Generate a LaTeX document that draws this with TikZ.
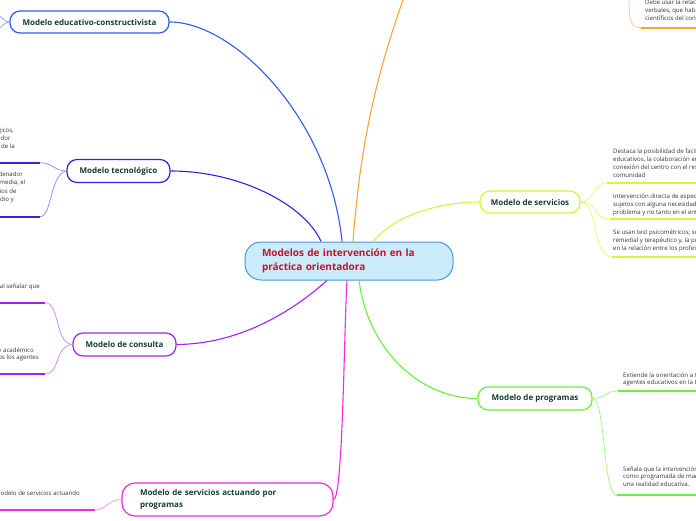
\documentclass[tikz,border=0pt]{standalone}
\usepackage{fontspec}
\setmainfont{Open Sans}
\definecolor{cedu}{HTML}{2F5CEB}
\definecolor{ctec}{HTML}{3A1EE3}
\definecolor{ccon}{HTML}{A322F0}
\definecolor{cbot}{HTML}{EE2BDF}
\definecolor{cora}{HTML}{FFA42B}
\definecolor{cser}{HTML}{D5F53B}
\definecolor{cpro}{HTML}{6CEF3A}
\definecolor{mainfill}{HTML}{C9EBFA}
\definecolor{mainline}{HTML}{4A98D4}
\definecolor{maintext}{HTML}{C8102E}
\definecolor{nodetext}{HTML}{123F2E}
\definecolor{smalltext}{HTML}{333333}
\tikzset{
  topic/.style={draw, line width=1.2pt, fill=white, rounded corners=10pt,
    font=\fontsize{8}{9.5}\selectfont\bfseries, text=nodetext, inner sep=0pt},
  link/.style={line width=1.1pt},
  twig/.style={line width=0.7pt},
  uline/.style={line width=2pt},
  note/.style={font=\fontsize{6.1}{7.8}\selectfont, text=smalltext, inner sep=0pt, align=left, anchor=north west},
  lnote/.style={font=\fontsize{6.1}{7.8}\selectfont, text=smalltext, inner sep=0pt, anchor=base east}
}
\begin{document}
\begin{tikzpicture}[x=1pt,y=-1pt]
\useasboundingbox (0,0) rectangle (696,520);
\clip (0,0) rectangle (696,520);

% central node
\node[draw=mainline, fill=mainfill, line width=1pt, rounded corners=16pt,
  minimum width=208pt, minimum height=38pt, text width=174pt, align=left,
  font=\fontsize{10}{14}\selectfont\bfseries, text=maintext, inner sep=0pt] (main) at (349,261)
  {Modelos de intervención en la\\práctica orientadora};

% topics
\node[topic, draw=cedu, minimum width=159pt, minimum height=22pt] (edu) at (89.5,22) {Modelo educativo-constructivista};
\node[topic, draw=ctec, minimum width=103pt, minimum height=23pt] (tec) at (118.5,171) {Modelo tecnológico};
\node[topic, draw=ccon, minimum width=103pt, minimum height=23pt] (con) at (124.5,344.5) {Modelo de consulta};
\node[topic, draw=cbot, minimum width=211pt, minimum height=33pt, rounded corners=13pt,
  text width=175pt, align=left, font=\fontsize{8}{12.4}\selectfont\bfseries] (bot) at (227.5,499.5)
  {Modelo de servicios actuando por\\programas};
\node[topic, draw=cser, minimum width=100pt, minimum height=22pt] (ser) at (530,202) {Modelo de servicios};
\node[topic, draw=cpro, minimum width=114pt, minimum height=23pt] (pro) at (535,398.5) {Modelo de programas};

\coordinate (orangetop) at (410,-20);

% main links
\draw[link, cedu] (edu.east) .. controls (235,22) and (330,120) .. ([xshift=-7pt]main.north);
\draw[link, ctec] (tec.east) .. controls (240,171) and (305,205) .. ([xshift=-28pt]main.north);
\draw[link, ccon] (con.east) .. controls (250,344) and (305,300) .. ([xshift=-22pt]main.south);
\draw[link, cbot] (bot.east) .. controls (343,499) and (344,330) .. ([xshift=-2pt]main.south);
\draw[link, cora] ([xshift=4pt]main.north) .. controls (362,120) and (385,50) .. (orangetop);
\draw[link, cser] ([xshift=24pt]main.north) .. controls (395,215) and (440,202) .. (ser.west);
\draw[link, cpro] ([xshift=10pt]main.south) .. controls (368,350) and (420,398.5) .. (pro.west);

% educativo left stubs
\coordinate (e1) at (-2,15);
\coordinate (e2) at (-2,29);
\draw[twig, cedu!60] (edu.west) .. controls (5,22) and (3,18) .. (e1);
\draw[twig, cedu!60] (edu.west) .. controls (5,22) and (3,26) .. (e2);

% tecnologico subbranches
\coordinate (t1a) at (40,162.7); \coordinate (t1b) at (-5,162.7);
\coordinate (t2a) at (40,216.7); \coordinate (t2b) at (-5,216.7);
\draw[uline, ctec] (t1b) -- (t1a);
\draw[uline, ctec] (t2b) -- (t2a);
\draw[twig, ctec!55] (t1a) .. controls (52,162.7) and (55,171) .. (tec.west);
\draw[twig, ctec!55] (t2a) .. controls (52,216.7) and (50,174) .. (tec.west);
\node[lnote] (ta1) at (14,132.2) {gicos,};
\node[lnote] (ta2) at (10.7,140) {dor};
\node[lnote] (ta3) at (15,148) {a de la};
\node[lnote] (tb1) at (23,176.7) {rdenador};
\node[lnote] (tb2) at (25.5,184.9) {media, el};
\node[lnote] (tb3) at (16.7,193.2) {ios de};
\node[lnote] (tb4) at (14,201.8) {adio y};

% consulta subbranches
\coordinate (c1a) at (45,302.7); \coordinate (c1b) at (-5,302.7);
\coordinate (c2a) at (45,374); \coordinate (c2b) at (-5,374);
\draw[uline, ccon] (c1b) -- (c1a);
\draw[uline, ccon] (c2b) -- (c2a);
\draw[twig, ccon!55] (c1a) .. controls (60,302.7) and (55,344) .. (con.west);
\draw[twig, ccon!55] (c2a) .. controls (60,374) and (55,345) .. (con.west);
\node[lnote] (ca1) at (40,288.3) {al señalar que};
\node[lnote] (cb1) at (34,352.1) {y académico};
\node[lnote] (cb2) at (39,359.9) {os los agentes};

% bottom subbranch
\coordinate (b1a) at (95,510); \coordinate (b1b) at (-5,510);
\draw[uline, cbot] (b1b) -- (b1a);
\draw[twig, cbot!55] (b1a) .. controls (106,510) and (108,499.5) .. (bot.west);
\node[lnote] (ba1) at (80,495.6) {modelo de servicios actuando};

% orange subbranch (top right)
\coordinate (o0) at (629,-5); \coordinate (o1) at (641,27.7); \coordinate (o2) at (700,27.7);
\draw[twig, cora!60] (o0) .. controls (629,20) and (630,27.7) .. (o1);
\draw[uline, cora] (o1) -- (o2);
\node[note] (on) at (645,0) {Debe usar la relac\\verbales, que habr\\científicos del conc};

% servicios subbranches
\coordinate (s1a) at (607,183); \coordinate (s1b) at (700,183);
\coordinate (s2a) at (610,219); \coordinate (s2b) at (700,219);
\coordinate (s3a) at (612,257); \coordinate (s3b) at (700,257);
\draw[twig, cser!70] (ser.east) .. controls (595,202) and (592,183) .. (s1a);
\draw[twig, cser!70] (ser.east) .. controls (597,202) and (594,219) .. (s2a);
\draw[twig, cser!70] (ser.east) .. controls (598,202) and (592,257) .. (s3a);
\draw[uline, cser] (s1a) -- (s1b);
\draw[uline, cser] (s2a) -- (s2b);
\draw[uline, cser] (s3a) -- (s3b);
\node[note] (sn1) at (613,148.9) {Destaca la posibilidad de facil\\educativos, la colaboración en\\conexión del centro con el res\\comunidad};
\node[note] (sn2) at (613,193.9) {Intervención directa de espec\\sujetos con alguna necesidad\\problema y no tanto en el ent};
\node[note] (sn3) at (613,229.9) {Se usan test psicométricos; su\\remedial y terapéutico y, la po\\en la relación entre los profes};

% programas subbranches
\coordinate (p1a) at (618,391); \coordinate (p1b) at (700,391);
\coordinate (p2a) at (617,495); \coordinate (p2b) at (700,495);
\draw[twig, cpro!65] (pro.east) .. controls (605,398.5) and (605,391) .. (p1a);
\draw[twig, cpro!65] (pro.east) .. controls (606,398.5) and (602,495) .. (p2a);
\draw[uline, cpro] (p1a) -- (p1b);
\draw[uline, cpro] (p2a) -- (p2b);
\node[note] (pn1) at (623,372.2) {Extiende la orientación a t\\agentes educativos en la t};
\node[note] (pn2) at (623,466.2) {Señala que la intervención\\como programada de mar\\una realidad educativa.};
\end{tikzpicture}
\end{document}
